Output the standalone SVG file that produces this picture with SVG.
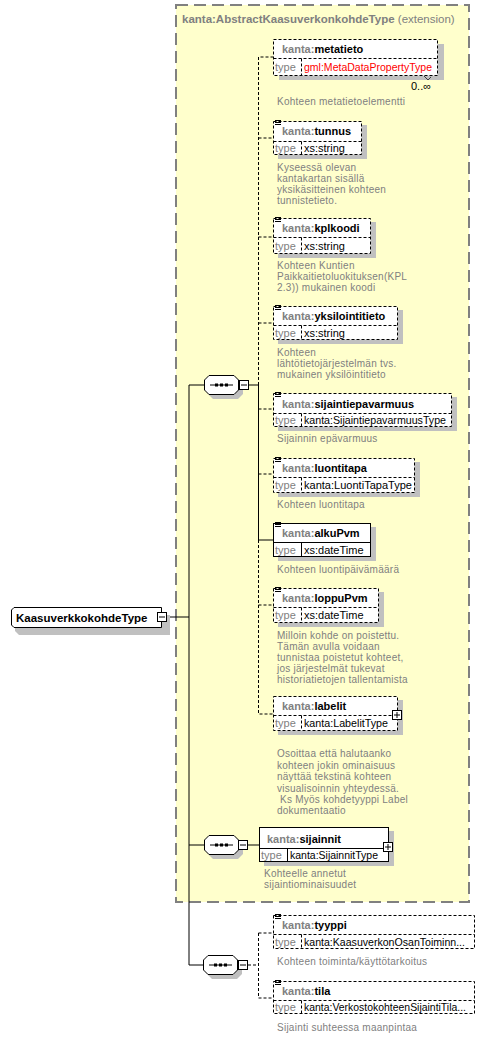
<svg xmlns="http://www.w3.org/2000/svg" width="504" height="1038" viewBox="0 0 504 1038">
<style>
text{font-family:"Liberation Sans",Arial,sans-serif}
.hd{font-size:11px;font-weight:bold;fill:#000}
.pf{fill:#808080}
.ty{font-size:11px;fill:#808080}
.tv{font-size:11px;fill:#000}
.ds{font-size:10px;fill:#808080;letter-spacing:0.25px}
.box{fill:#fff;stroke:#000;stroke-width:1}
.opt{stroke-dasharray:3,2}
.sh{fill:#c0c0c0}
.ln{stroke:#000;stroke-width:1;fill:none}
.dl{stroke:#000;stroke-width:1;fill:none;stroke-dasharray:3,2}
</style>
<defs>
<g id="eq"><path d="M2 0.5h6M2 2.5h6M2 4.5h6" stroke="#000" stroke-width="1"/></g>
<g id="seq">
<path d="M5 0H30L35 5V15L30 20H5L0 15V5Z" fill="#c0c0c0" transform="translate(4,4)"/>
<path d="M5 0.5H30L34.5 5V15L30 19.5H5L0.5 15V5Z" fill="#fff" stroke="#000"/>
<path d="M6 10H29" stroke="#000"/>
<rect x="11" y="8.5" width="3" height="3" fill="#000"/>
<rect x="16" y="8.5" width="3" height="3" fill="#000"/>
<rect x="21" y="8.5" width="3" height="3" fill="#000"/>
</g>
<g id="minus"><rect x="0.5" y="0.5" width="9" height="9" fill="#fff" stroke="#000"/><path d="M2 5H8" stroke="#000"/></g>
<g id="plus"><rect x="0.5" y="0.5" width="9" height="9" fill="#fff" stroke="#000"/><path d="M2 5H8M5 2V8" stroke="#000"/></g>
</defs>

<g id="extension">
<rect x="176" y="5" width="293" height="897" fill="#ffffcc" stroke="#808080" stroke-width="2" stroke-dasharray="12,6"/>
<text x="182" y="23" style="font-size:11.5px;font-weight:bold;fill:#808080">kanta:AbstractKaasuverkonkohdeType<tspan style="font-weight:normal"> (extension)</tspan></text>
</g>

<g id="connectors">
<path class="ln" d="M166 617H189M189 385V965M189 385H204M189 845H204M189 965H203"/>
<path class="ln" d="M249 385H258.5V540H273"/>
<path class="dl" d="M258.5 385V57H273M258.5 138H273M258.5 237H273M258.5 323H273M258.5 409H273M258.5 474H273M258.5 540V714H273M258.5 605H273"/>
<path class="ln" d="M248 845H259"/>
<path class="dl" d="M248 965H258.5M258.5 933V998M258.5 933H273M258.5 998H273"/>
</g>

<g id="root">
<path d="M15 611H166V631H15L11 627V615Z" fill="#c0c0c0" transform="translate(4,4)"/>
<path d="M14 607.5H161.5V627.5H14L11.5 625V610Z" class="box"/>
<text x="16" y="622" style="font-size:11.5px;font-weight:bold;fill:#000">KaasuverkkokohdeType</text>
<use href="#minus" x="157" y="612"/>
</g>

<g id="seq1"><use href="#seq" x="204" y="375"/><use href="#minus" x="239" y="380"/></g>
<g id="seq2"><use href="#seq" x="204" y="835"/><use href="#minus" x="238" y="840"/></g>
<g id="seq3"><use href="#seq" x="203" y="955"/><use href="#minus" x="238" y="960"/></g>

<g id="metatieto">
<rect x="279" y="44" width="165" height="36" class="sh"/>
<rect x="273.5" y="39.5" width="164" height="36" class="box opt"/>
<path class="opt" d="M273.5 58.5H437.5M301.5 58.5V75.5" stroke="#000"/>
<text x="282" y="53" class="hd"><tspan class="pf">kanta:</tspan>metatieto</text>
<text x="275" y="71" class="ty">type</text>
<text x="304" y="71" class="tv" style="fill:#ff0000" textLength="128" lengthAdjust="spacingAndGlyphs">gml:MetaDataPropertyType</text>
<path d="M424 76L428 80L431 77" stroke="#404040" fill="none"/>
<text x="411" y="90" style="font-size:11px;fill:#000">0..∞</text>
<text x="277" y="105" class="ds">Kohteen metatietoelementti</text>
</g>

<g id="tunnus">
<rect x="278" y="125" width="89" height="34" class="sh"/>
<rect x="273.5" y="121.5" width="88" height="33" class="box opt"/>
<path class="opt" d="M273.5 141.5H361.5M301.5 141.5V154.5" stroke="#000"/>
<use href="#eq" x="273" y="120"/>
<text x="282" y="135" class="hd"><tspan class="pf">kanta:</tspan>tunnus</text>
<text x="275" y="152" class="ty">type</text>
<text x="304" y="152" class="tv">xs:string</text>
<text class="ds"><tspan x="277" y="171">Kyseessä olevan</tspan><tspan x="277" y="182">kantakartan sisällä</tspan><tspan x="277" y="193">yksikäsitteinen kohteen</tspan><tspan x="277" y="204">tunnistetieto.</tspan></text>
</g>

<g id="kplkoodi">
<rect x="278" y="222" width="98" height="36" class="sh"/>
<rect x="273.5" y="218.5" width="97" height="35" class="box opt"/>
<path class="opt" d="M273.5 237.5H370.5M301.5 237.5V253.5" stroke="#000"/>
<use href="#eq" x="273" y="217"/>
<text x="282" y="232" class="hd"><tspan class="pf">kanta:</tspan>kplkoodi</text>
<text x="275" y="250" class="ty">type</text>
<text x="304" y="250" class="tv">xs:string</text>
<text class="ds"><tspan x="277" y="269">Kohteen Kuntien</tspan><tspan x="277" y="280">Paikkaitietoluokituksen(KPL</tspan><tspan x="277" y="291">2.3)) mukainen koodi</tspan></text>
</g>

<g id="yksilointitieto">
<rect x="278" y="310" width="125" height="34" class="sh"/>
<rect x="273.5" y="306.5" width="124" height="33" class="box opt"/>
<path class="opt" d="M273.5 325.5H397.5M301.5 325.5V339.5" stroke="#000"/>
<use href="#eq" x="273" y="305"/>
<text x="282" y="320" class="hd"><tspan class="pf">kanta:</tspan>yksilointitieto</text>
<text x="275" y="337" class="ty">type</text>
<text x="304" y="337" class="tv">xs:string</text>
<text class="ds"><tspan x="277" y="356">Kohteen</tspan><tspan x="277" y="367">lähtötietojärjestelmän  tvs.</tspan><tspan x="277" y="378">mukainen yksilöintitieto</tspan></text>
</g>

<g id="sijaintiepavarmuus">
<rect x="278" y="397" width="179" height="34" class="sh"/>
<rect x="273.5" y="393.5" width="178" height="33" class="box opt"/>
<path class="opt" d="M273.5 413.5H451.5M301.5 413.5V426.5" stroke="#000"/>
<use href="#eq" x="273" y="392"/>
<text x="282" y="408" class="hd"><tspan class="pf">kanta:</tspan>sijaintiepavarmuus</text>
<text x="275" y="424" class="ty">type</text>
<text x="304" y="424" class="tv" textLength="142" lengthAdjust="spacingAndGlyphs">kanta:SijaintiepavarmuusType</text>
<text x="277" y="442" class="ds">Sijainnin epävarmuus</text>
</g>

<g id="luontitapa">
<rect x="278" y="462" width="142" height="35" class="sh"/>
<rect x="273.5" y="458.5" width="141" height="34" class="box opt"/>
<path class="opt" d="M273.5 477.5H414.5M301.5 477.5V492.5" stroke="#000"/>
<use href="#eq" x="273" y="457"/>
<text x="282" y="472" class="hd"><tspan class="pf">kanta:</tspan>luontitapa</text>
<text x="275" y="489" class="ty">type</text>
<text x="304" y="489" class="tv" textLength="108" lengthAdjust="spacingAndGlyphs">kanta:LuontiTapaType</text>
<text x="277" y="508" class="ds">Kohteen luontitapa</text>
</g>

<g id="alkuPvm">
<rect x="278" y="527" width="98" height="34" class="sh"/>
<rect x="273.5" y="523.5" width="97" height="33" class="box"/>
<path d="M273.5 542.5H370.5M301.5 542.5V556.5" stroke="#000"/>
<use href="#eq" x="273" y="522"/>
<text x="282" y="537" class="hd"><tspan class="pf">kanta:</tspan>alkuPvm</text>
<text x="275" y="554" class="ty">type</text>
<text x="304" y="554" class="tv">xs:dateTime</text>
<text x="277" y="573" class="ds">Kohteen luontipäivämäärä</text>
</g>

<g id="loppuPvm">
<rect x="278" y="592" width="106" height="35" class="sh"/>
<rect x="273.5" y="588.5" width="105" height="34" class="box opt"/>
<path class="opt" d="M273.5 607.5H378.5M301.5 607.5V622.5" stroke="#000"/>
<use href="#eq" x="273" y="587"/>
<text x="282" y="602" class="hd"><tspan class="pf">kanta:</tspan>loppuPvm</text>
<text x="275" y="619" class="ty">type</text>
<text x="304" y="619" class="tv">xs:dateTime</text>
<text class="ds"><tspan x="277" y="639">Milloin kohde on poistettu.</tspan><tspan x="277" y="650">Tämän avulla voidaan</tspan><tspan x="277" y="661">tunnistaa poistetut kohteet,</tspan><tspan x="277" y="672">jos järjestelmät tukevat</tspan><tspan x="277" y="683">historiatietojen tallentamista</tspan></text>
</g>

<g id="labelit">
<rect x="278" y="700" width="125" height="35" class="sh"/>
<rect x="273.5" y="696.5" width="124" height="34" class="box opt"/>
<path class="opt" d="M273.5 715.5H397.5M301.5 715.5V730.5" stroke="#000"/>
<text x="282" y="710" class="hd"><tspan class="pf">kanta:</tspan>labelit</text>
<text x="275" y="727" class="ty">type</text>
<text x="304" y="727" class="tv" textLength="84" lengthAdjust="spacingAndGlyphs">kanta:LabelitType</text>
<use href="#plus" x="392" y="710"/>
<text class="ds"><tspan x="277" y="757">Osoittaa että halutaanko</tspan><tspan x="277" y="768.5">kohteen jokin ominaisuus</tspan><tspan x="277" y="780">näyttää tekstinä kohteen</tspan><tspan x="277" y="791.5">visualisoinnin yhteydessä.</tspan><tspan x="277" y="803"> Ks Myös kohdetyyppi Label</tspan><tspan x="277" y="814">dokumentaatio</tspan></text>
</g>

<g id="sijainnit">
<rect x="264" y="831" width="130" height="35" class="sh"/>
<rect x="259.5" y="827.5" width="129" height="34" class="box"/>
<path d="M259.5 848.5H388.5M287.5 848.5V861.5" stroke="#000"/>
<text x="267" y="843" class="hd"><tspan class="pf">kanta:</tspan>sijainnit</text>
<text x="261" y="859" class="ty">type</text>
<text x="290" y="859" class="tv" textLength="88" lengthAdjust="spacingAndGlyphs">kanta:SijainnitType</text>
<use href="#plus" x="383" y="842"/>
<text class="ds"><tspan x="264" y="877">Kohteelle annetut</tspan><tspan x="264" y="888">sijaintiominaisuudet</tspan></text>
</g>

<g id="tyyppi">
<rect x="273.5" y="915.5" width="201" height="33" class="box opt"/>
<path class="opt" d="M273.5 934.5H474.5M301.5 934.5V948.5" stroke="#000"/>
<use href="#eq" x="273" y="914"/>
<text x="282" y="929" class="hd"><tspan class="pf">kanta:</tspan>tyyppi</text>
<text x="275" y="946" class="ty">type</text>
<text x="304" y="946" class="tv" textLength="161" lengthAdjust="spacingAndGlyphs">kanta:KaasuverkonOsanToiminn...</text>
<text x="277" y="965" class="ds">Kohteen toiminta/käyttötarkoitus</text>
</g>

<g id="tila">
<rect x="273.5" y="981.5" width="201" height="32" class="box opt"/>
<path class="opt" d="M273.5 1000.5H474.5M301.5 1000.5V1013.5" stroke="#000"/>
<use href="#eq" x="273" y="980"/>
<text x="282" y="995" class="hd"><tspan class="pf">kanta:</tspan>tila</text>
<text x="275" y="1011" class="ty">type</text>
<text x="304" y="1011" class="tv" textLength="162" lengthAdjust="spacingAndGlyphs">kanta:VerkostokohteenSijaintiTila...</text>
<text x="277" y="1031" class="ds">Sijainti suhteessa maanpintaa</text>
</g>
</svg>
